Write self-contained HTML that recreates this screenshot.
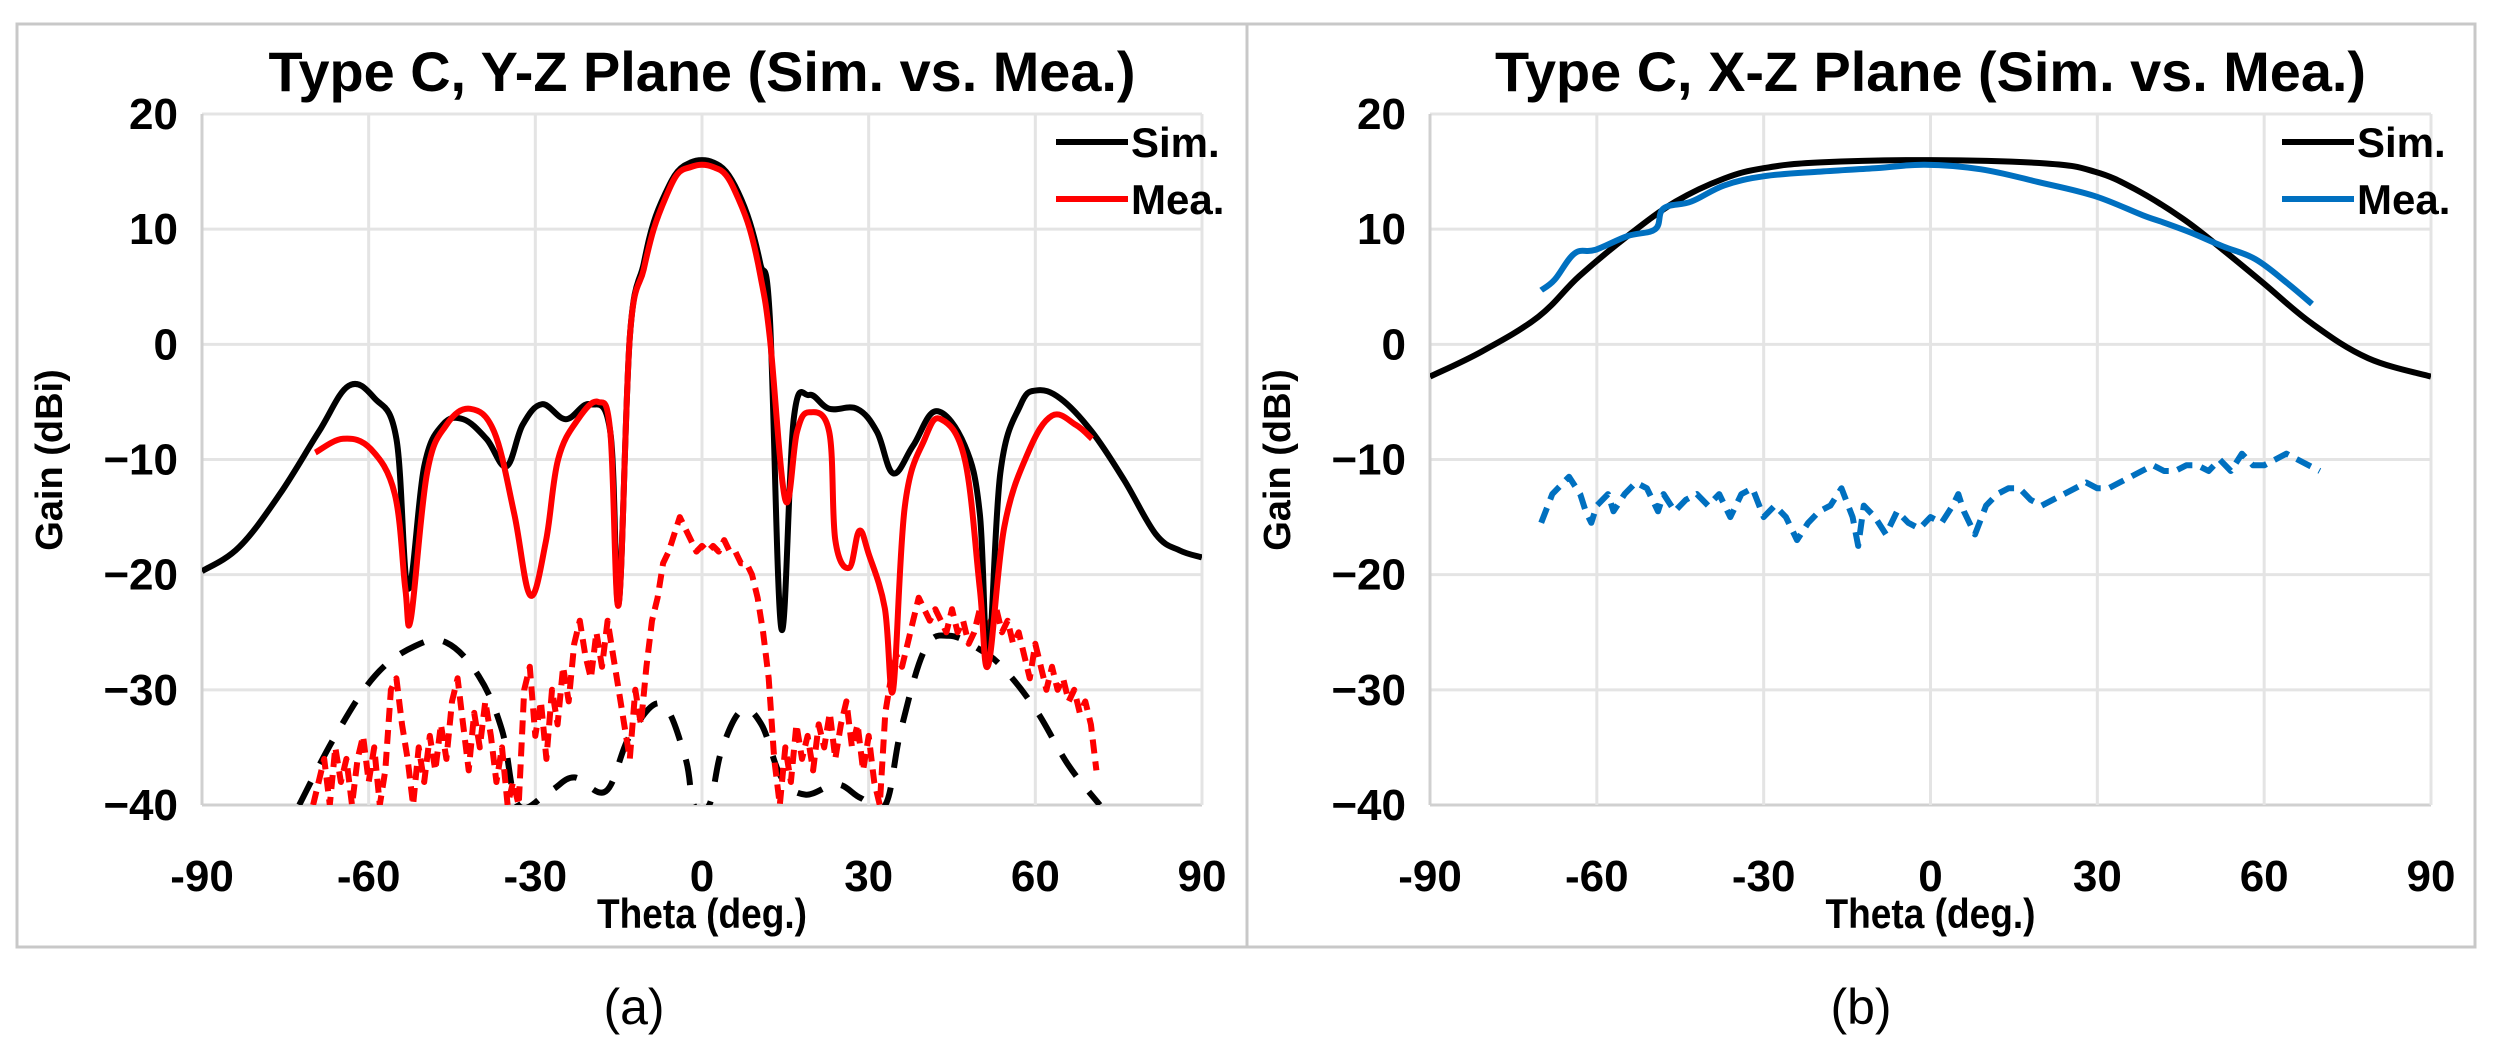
<!DOCTYPE html>
<html><head><meta charset="utf-8"><style>
html,body{margin:0;padding:0;background:#fff;}
svg{display:block;font-family:"Liberation Sans",sans-serif;}
</style></head><body>
<svg id="fig" width="2505" height="1061" viewBox="0 0 2505 1061" xmlns="http://www.w3.org/2000/svg">
<rect x="0" y="0" width="2505" height="1061" fill="#fff"/>
<rect x="17" y="24" width="1230" height="923" fill="none" stroke="#c8c8c8" stroke-width="3"/>
<rect x="1247" y="24" width="1228" height="923" fill="none" stroke="#c8c8c8" stroke-width="3"/>
<g id="chartA"></g>
<g id="chartB"></g>
<text x="634" y="1024" font-size="50" text-anchor="middle">(a)</text>
<text x="1861" y="1024" font-size="50" text-anchor="middle">(b)</text>
</svg>
<script>
// ---------- data ----------
const xTicks = [-90,-60,-30,0,30,60,90];
const yTicks = [20,10,0,-10,-20,-30,-40];
const yTickLabels = ["20","10","0","\u221210","\u221220","\u221230","\u221240"];

const aSimTheta = [-90,-83.3,-76,-69,-63.6,-58.9,-55,-52.9,-50,-46.7,-43,-38.8,-35.2,-32.3,-28.8,-24.5,-20.2,-16.5,-15,-13,-10.5,-8.7,-6.5,-4.4,-2,0,2,4.3,6.5,8.6,10.5,12.2,14.3,16.5,19.3,22.9,27.9,31.5,34.4,38,42.2,47.3,50,51.5,53.7,57.3,60.2,64.5,70.2,76,81.7,86,90];
const aSimGain  = [-19.7,-17.6,-13,-7.6,-3.6,-4.7,-8.2,-21.2,-10.6,-7,-6.5,-8.2,-10.6,-7,-5.2,-6.5,-5.2,-7.6,-22.5,0.6,7,10.6,13.2,15,15.8,16,15.8,15,13.2,10.6,7,2.4,-24.7,-6.5,-4.4,-5.6,-5.6,-7.6,-11.2,-8.8,-5.8,-8.8,-14.7,-27.6,-11.2,-5.3,-4,-4.7,-7.6,-11.8,-16.5,-17.9,-18.5];

const aMeaTheta = [-69.6,-64.6,-59.6,-55.3,-53.4,-52.4,-49.5,-46,-41.7,-37.4,-33.8,-30.9,-28.1,-25.9,-22.3,-18.7,-16.5,-15,-13,-10.5,-8.7,-6.5,-4.4,-2,0,2,4.3,6.5,8.6,10.5,12.2,15,17.1,19.3,22.9,24,26.5,28.3,30,32.9,34.4,36.5,40.1,43,47.3,50,51.5,54.4,58.7,63,67.3,70.2];
const aMeaGain  = [-9.4,-8.2,-9.1,-13,-21.2,-23.8,-11.2,-7,-5.6,-7.6,-14.7,-21.8,-17.1,-10,-6.5,-5,-7.6,-22.6,0.6,6.5,10,12.8,14.8,15.4,15.6,15.4,14.7,12.7,10,6,0.6,-13.5,-7.6,-5.9,-7.6,-17,-19.4,-16.2,-18.2,-22.9,-30,-14.1,-8.2,-6.5,-10,-21.2,-27.9,-15.9,-9.4,-6.2,-7,-8.2];

const aSimXTheta = [-72.5,-66,-58.9,-51.7,-46,-40.2,-36,-33.1,-27.4,-23,-17.3,-13,-7.3,-3,-1.5,1.3,3.5,7.1,10.7,14.3,18.6,24.3,28.6,33,35.8,40.1,44.4,50,54.4,60.2,65.9,71.6];
const aSimXGain  = [-40,-34,-28.8,-26.2,-25.9,-28.8,-33.5,-40,-38.8,-37.6,-38.8,-34,-31.2,-35.9,-40,-40,-35.3,-31.8,-33,-37.6,-39.1,-38.2,-39.4,-40,-33.5,-26.5,-25.3,-26.5,-28.2,-31.8,-36.5,-40];

const aMeaXTheta = [-70,-68,-67,-66,-65,-64,-63,-62,-61,-60,-59,-58,-57,-56,-55,-54,-53,-52,-51,-50,-49,-48,-47,-46,-45,-44,-43,-42,-41,-40,-39,-38,-37,-36,-35,-34,-33,-32,-31,-30,-29,-28,-27,-26,-25,-24,-23,-22,-21,-20,-19,-18,-17,-16,-15,-14,-13,-12,-11,-10,-9,-8,-7,-6,-5,-4,-3,-2,-1,0,1,2,3,4,5,6,7,8,9,10,11,12,13,14,15,16,17,18,19,20,21,22,23,24,25,26,27,28,29,30,31,32,33,34,35,36,37,38,39,40,41,42,43,44,45,46,47,48,49,50,51,52,53,54,55,56,57,58,59,60,61,62,63,64,65,66,67,68,69,70,71];
const aMeaXGain  = [-40,-36,-40,-35,-38,-36,-40,-36,-34,-38,-35,-40,-37,-30,-29,-33,-36,-40,-35,-38,-34,-37,-33,-36,-31,-29,-33,-37,-32,-35,-31,-34,-38,-35,-40,-38,-40,-30,-28,-34,-31,-36,-30,-33,-28,-31,-26,-24,-27,-29,-25,-28,-24,-27,-30,-33,-36,-30,-33,-28,-24,-22,-19,-18,-16.5,-15,-16,-17,-18,-17.5,-18,-17.5,-18,-17,-18,-18,-19,-19,-20,-22,-25,-29,-36,-40,-35,-38,-33,-36,-34,-37,-33,-35,-32,-36,-33,-31,-35,-33,-37,-34,-38,-40,-32,-29,-27,-28,-26,-24,-22,-23,-24,-23,-24,-25,-23,-25,-24,-26,-25,-23,-25,-24,-23,-25,-24,-26,-25,-27,-29,-26,-28,-30,-28,-30,-29,-31,-30,-32,-31,-33,-37];

const bSimTheta = [-90,-80.6,-70.5,-63.2,-54.5,-45.8,-37.1,-29.9,-19.8,0,20.8,29.5,36.7,45.4,52.6,59.9,68.6,78.7,90];
const bSimGain  = [-2.8,-0.6,2.4,5.9,9.4,12.4,14.4,15.3,15.8,16,15.7,15,13.5,10.9,8.2,5.3,1.8,-1.2,-2.8];

const bMeaTheta = [-70,-67.6,-64,-60.3,-54.5,-49.5,-48,-43,-37.1,-29.9,-19.8,-9.7,-1,9.1,19.3,29.4,38.2,41.8,46.8,52.6,58.4,64.2,68.6];
const bMeaGain  = [4.7,5.6,7.9,8.2,9.4,10,11.8,12.4,13.8,14.6,15,15.3,15.6,15.2,14.1,12.9,11.2,10.6,9.7,8.5,7.4,5.3,3.5];

const bMeaXTheta = [-70,-68,-66,-65,-63,-62,-61,-60,-58,-57,-55,-53,-51,-49,-48,-46,-44,-42,-40,-38,-36,-34,-32,-30,-28,-26,-24,-22,-20,-18,-16,-14,-13,-12,-10,-8,-6,-4,-2,0,2,4,5,6,8,10,12,14,16,18,20,22,24,26,28,30,32,34,36,38,40,42,44,46,48,50,52,54,56,58,60,62,64,66,68,70];
const bMeaXGain  = [-15.5,-13,-12,-11.5,-13,-14.5,-15.5,-14,-13,-14.5,-13,-12,-12.5,-14.5,-13,-14.5,-13.5,-13,-14,-13,-15,-13,-12.5,-15,-14,-15,-17,-15.5,-14.5,-14,-12.5,-15,-17.5,-14,-15,-16.5,-14.5,-15.5,-16,-15,-15.5,-14,-13,-14.5,-16.5,-14,-13,-12.5,-12.5,-13.5,-14,-13.5,-13,-12.5,-12,-12.5,-12.5,-12,-11.5,-11,-10.5,-11,-11,-10.5,-10.5,-11,-10,-11,-9.5,-10.5,-10.5,-10,-9.5,-10,-10.5,-11];

// ---------- drawing ----------
const NS = "http://www.w3.org/2000/svg";
function mk(tag, attrs, parent){
  const e = document.createElementNS(NS, tag);
  for (const k in attrs) e.setAttribute(k, attrs[k]);
  parent.appendChild(e);
  return e;
}
const TOP = 114, BOT = 805;
function yScale(g){ return TOP + (20 - g) / 60 * (BOT - TOP); }

function pathFrom(pts, smooth){
  if (!smooth) return pts.map((p, i) => (i ? "L" : "M") + p[0].toFixed(1) + "," + p[1].toFixed(1)).join("");
  let d = "M" + pts[0][0].toFixed(1) + "," + pts[0][1].toFixed(1);
  const t = 0.18;
  for (let i = 0; i < pts.length - 1; i++){
    const p0 = pts[Math.max(0, i - 1)], p1 = pts[i], p2 = pts[i + 1], p3 = pts[Math.min(pts.length - 1, i + 2)];
    const c1 = [p1[0] + (p2[0] - p0[0]) * t, p1[1] + (p2[1] - p0[1]) * t];
    const c2 = [p2[0] - (p3[0] - p1[0]) * t, p2[1] - (p3[1] - p1[1]) * t];
    d += "C" + c1[0].toFixed(1) + "," + c1[1].toFixed(1) + " " + c2[0].toFixed(1) + "," + c2[1].toFixed(1) + " " + p2[0].toFixed(1) + "," + p2[1].toFixed(1);
  }
  return d;
}

function drawChart(g, L, R, title, titleLen, legendX, series, legendItems, id){
  const xs = t => L + (t + 90) / 180 * (R - L);
  const clip = mk("clipPath", {id: "clip" + id}, g);
  mk("rect", {x: L, y: TOP - 2, width: R - L, height: BOT - TOP + 2}, clip);
  yTicks.forEach((v, i) => {
    const gl = mk("line", {x1: L, x2: R, y1: yScale(v), y2: yScale(v), stroke: v === -40 ? "#d0d0d0" : "#e4e4e4", "stroke-width": 3}, g);
    
    
    const t = mk("text", {x: L - 24, y: yScale(v) + 15, "font-size": 44, "font-weight": "bold", "text-anchor": "end"}, g);
    t.textContent = yTickLabels[i];
    
    
  });
  xTicks.forEach(v => {
    const gl = mk("line", {x1: xs(v), x2: xs(v), y1: TOP, y2: BOT, stroke: v === -90 ? "#d0d0d0" : "#e4e4e4", "stroke-width": 3}, g);
    
    
    const t = mk("text", {x: xs(v), y: 891, "font-size": 44, "font-weight": "bold", "text-anchor": "middle"}, g);
    t.textContent = String(v);
    
    
  });
  const sg = mk("g", {"clip-path": "url(#clip" + id + ")"}, g);
  series.forEach(s => {
    const pts = s.th.map((t, i) => [xs(t), yScale(s.gn[i])]);
    const attrs = {d: pathFrom(pts, s.smooth), fill: "none", stroke: s.color, "stroke-width": 6, "stroke-linejoin": "round"};
    if (s.dash) attrs["stroke-dasharray"] = s.dash;
    const p = mk("path", attrs, sg);
    
    
  });
  const tt = mk("text", {x: (L + R) / 2, y: 91, "font-size": 56, "font-weight": "bold", "text-anchor": "middle", textLength: titleLen, lengthAdjust: "spacingAndGlyphs"}, g);
  tt.textContent = title;
  
  
  const xt = mk("text", {x: (L + R) / 2, y: 928, "font-size": 42, "font-weight": "bold", "text-anchor": "middle", textLength: 210, lengthAdjust: "spacingAndGlyphs"}, g);
  xt.textContent = "Theta (deg.)";
  
  
  const yx = L - 140, yy = 460;
  const yt = mk("text", {x: yx, y: yy, "font-size": 38, "font-weight": "bold", "text-anchor": "middle", transform: "rotate(-90 " + yx + " " + yy + ")"}, g);
  yt.textContent = "Gain (dBi)";
  
  
  legendItems.forEach((it, i) => {
    const ly = 142 + i * 57;
    const lg = mk("g", {}, g);
    
    
    mk("line", {x1: legendX, x2: legendX + 72, y1: ly, y2: ly, stroke: it.color, "stroke-width": 6}, lg);
    const lt = mk("text", {x: legendX + 75, y: ly + 15, "font-size": 42, "font-weight": "bold"}, lg);
    lt.textContent = it.label;
  });
}

drawChart(document.getElementById("chartA"), 202, 1202, "Type C, Y-Z Plane (Sim. vs. Mea.)", 867, 1056, [
  {th: aSimXTheta, gn: aSimXGain, color: "#000", dash: "26 20", name: "sim-crosspol-line", smooth: true},
  {th: aMeaXTheta, gn: aMeaXGain, color: "#ff0000", dash: "14 8", name: "mea-crosspol-line"},
  {th: aSimTheta, gn: aSimGain, color: "#000", name: "sim-line", smooth: true},
  {th: aMeaTheta, gn: aMeaGain, color: "#ff0000", name: "mea-line", smooth: true}
], [{label: "Sim.", color: "#000"}, {label: "Mea.", color: "#ff0000"}], "A");

drawChart(document.getElementById("chartB"), 1430, 2431, "Type C, X-Z Plane (Sim. vs. Mea.)", 871, 2282, [
  {th: bMeaXTheta, gn: bMeaXGain, color: "#0070c0", dash: "16 9", name: "mea-crosspol-line"},
  {th: bSimTheta, gn: bSimGain, color: "#000", name: "sim-line", smooth: true},
  {th: bMeaTheta, gn: bMeaGain, color: "#0070c0", name: "mea-line", smooth: true}
], [{label: "Sim.", color: "#000"}, {label: "Mea.", color: "#0070c0"}], "B");
</script>
</body></html>
